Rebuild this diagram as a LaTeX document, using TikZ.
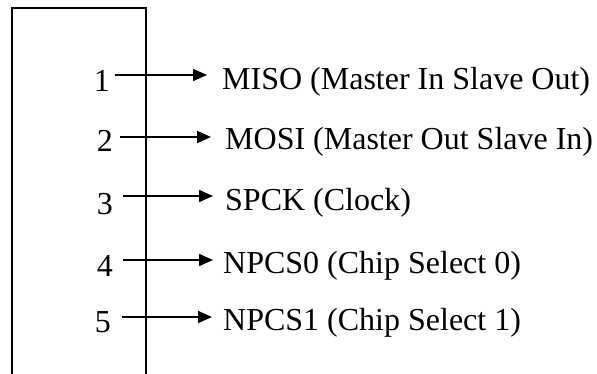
\documentclass[tikz,border=0pt]{standalone}
\usepackage{fontspec}
\setmainfont{Liberation Serif}
\usetikzlibrary{arrows.meta}
\begin{document}
\begin{tikzpicture}[x=1pt,y=1pt,
  pin/.style={font=\fontsize{32}{36}\selectfont, inner sep=0pt, anchor=base east},
  sig/.style={font=\fontsize{32}{36}\selectfont, inner sep=0pt, anchor=base west},
  arr/.style={line width=1.5pt, -{Triangle[length=14pt,width=12pt]}},
  box/.style={line width=1.6pt}]
\useasboundingbox (0,0) rectangle (597,374);
\draw[box] (12,-5) -- (12,366) -- (146,366) -- (146,-5);
% row 1
\node[pin] (d1) at (110,282) {1};
\node[sig] (t1) at (222,284) {MISO (Master In Slave Out)};
\coordinate (s1) at (115,299);
\coordinate (e1) at (207,299);
\draw[arr] (s1) -- (e1);
% row 2
\node[pin] (d2) at (113,222) {2};
\node[sig] (t2) at (225,224) {MOSI (Master Out Slave In)};
\coordinate (s2) at (120,237);
\coordinate (e2) at (211,237);
\draw[arr] (s2) -- (e2);
% row 3
\node[pin] (d3) at (113,159) {3};
\node[sig] (t3) at (225,163) {SPCK (Clock)};
\coordinate (s3) at (123,178);
\coordinate (e3) at (213,178);
\draw[arr] (s3) -- (e3);
% row 4
\node[pin] (d4) at (113,97) {4};
\node[sig] (t4) at (223,100) {NPCS0 (Chip Select 0)};
\coordinate (s4) at (123,114);
\coordinate (e4) at (213,114);
\draw[arr] (s4) -- (e4);
% row 5
\node[pin] (d5) at (111,41) {5};
\node[sig] (t5) at (223,43) {NPCS1 (Chip Select 1)};
\coordinate (s5) at (122,57);
\coordinate (e5) at (212,57);
\draw[arr] (s5) -- (e5);
\end{tikzpicture}
\end{document}
